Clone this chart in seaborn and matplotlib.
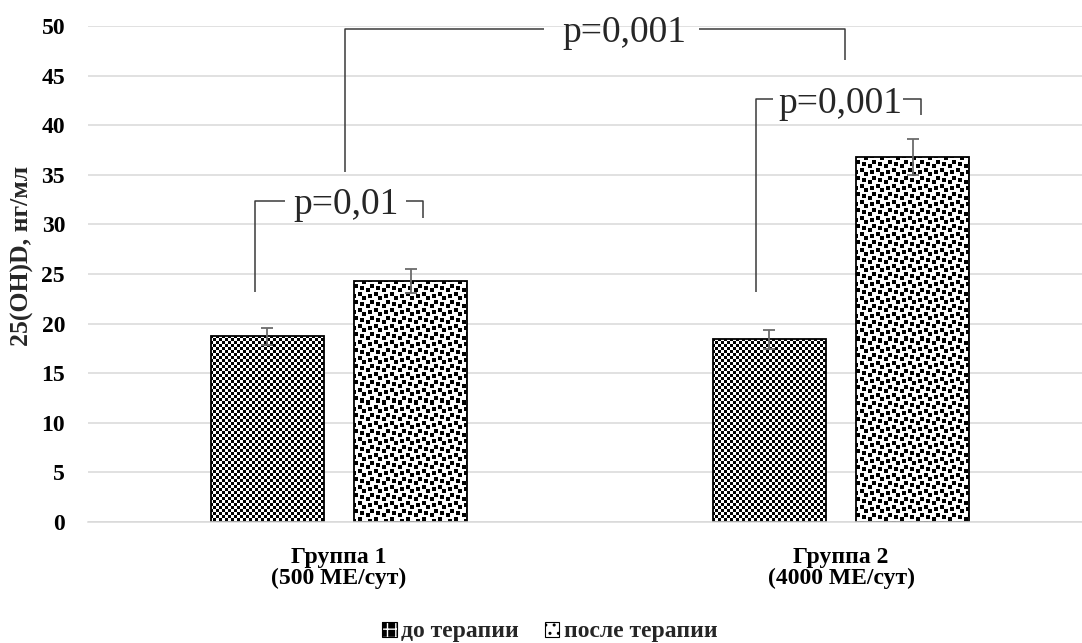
import numpy as np
import pandas as pd
import matplotlib
matplotlib.use("Agg")
import matplotlib.pyplot as plt
from matplotlib.patches import Patch
from matplotlib.legend_handler import HandlerTuple
import seaborn as sns

# --- data -------------------------------------------------------------
groups = ["Группа 1\n(500 МЕ/сут)", "Группа 2\n(4000 МЕ/сут)"]
stages = ["до терапии", "после терапии"]
means_before = [18.7, 18.4]
means_after = [24.3, 36.8]
sd_before = [0.9, 0.95]
sd_after = [1.2, 1.8]
y_ticks = [0, 5, 10, 15, 20, 25, 30, 35, 40, 45, 50]
y_label = "25(OH)D, нг/мл"

# significance brackets:
# (left x, left bottom y, right x, right bottom y, top y, text, text x, (gap start, gap end))
brackets = [
    (-0.167, 23.2, 0.167, 30.6, 32.4, "p=0,01", 0.014, (-0.108, 0.133)),
    (0.012, 35.3, 1.008, 46.6, 49.7, "p=0,001", 0.568, (0.408, 0.717)),
    (0.830, 23.2, 1.159, 41.0, 42.6, "p=0,001", 0.998, (0.865, 1.124)),
]

df = pd.DataFrame({
    "group": groups * 2,
    "stage": [stages[0]] * 2 + [stages[1]] * 2,
    "value": means_before + means_after,
})

# --- style ------------------------------------------------------------
sns.set_theme(style="white")
plt.rcParams["font.family"] = ["Liberation Serif", "DejaVu Serif"]

W, H = 1082, 643
fig = plt.figure(figsize=(W / 100, H / 100), dpi=100)
ax = fig.add_axes([88 / W, (H - 522) / H, (1092 - 88) / W, (522 - 26) / H])

sns.barplot(data=df, x="group", y="value", hue="stage", hue_order=stages,
            order=groups, palette=["white", "white"], edgecolor="black",
            linewidth=1.3, width=0.572, gap=0.213, errorbar=None,
            legend=False, ax=ax, zorder=2)

ax.set_xlim(-0.5, 1.5)
ax.set_ylim(0, 50)

# 8x8 fill tiles (1 = black)
def bits(rows):
    return np.array([[(r >> (7 - k)) & 1 for k in range(8)] for r in rows])

checker = bits([0x99, 0x66, 0x66, 0x99, 0x99, 0x66, 0x66, 0x99])
confetti = bits([0x8D, 0x0C, 0xC0, 0xD8, 0x1B, 0x03, 0x30, 0xB1])
tiles = [(checker, 1.5), (confetti, 2.0)]

for cont, (tile, cell) in zip(ax.containers, tiles):
    for bar in cont:
        bb = bar.get_window_extent()
        w = max(int(round(bb.width)), 1)
        h = max(int(round(bb.height)), 1)
        jj, ii = np.mgrid[0:h, 0:w]
        arr = tile[(np.floor(jj / cell).astype(int)) % 8,
                   (np.floor(ii / cell).astype(int)) % 8]
        x0, y0 = bar.get_x(), bar.get_y()
        im = ax.imshow(arr, extent=(x0, x0 + bar.get_width(), y0, y0 + bar.get_height()),
                       cmap="gray_r", vmin=0, vmax=1, interpolation="nearest",
                       aspect="auto", zorder=1.5)
        im.set_clip_path(bar)
        bar.set_facecolor("none")
        bar.set_zorder(2)

# error bars
for cont, sds in zip(ax.containers, [sd_before, sd_after]):
    xs = [b.get_x() + b.get_width() / 2 for b in cont]
    ys = [b.get_height() for b in cont]
    ax.errorbar(xs, ys, yerr=sds, fmt="none", ecolor="#6b6b6b",
                elinewidth=1.3, capsize=4.3, capthick=1.3, zorder=3)

ax.set_xlim(-0.5, 1.5)
ax.set_ylim(0, 50)

# axes styling
ax.set_yticks(y_ticks)
ax.yaxis.grid(True, color="#d9d9d9", linewidth=1.1)
ax.set_axisbelow(True)
for s in ["left", "right", "top"]:
    ax.spines[s].set_visible(False)
ax.spines["bottom"].set_color("#d9d9d9")
ax.spines["bottom"].set_linewidth(1.1)
ax.tick_params(axis="both", length=0, labelsize=17, colors="black")
ax.tick_params(axis="y", pad=16.5)
ax.tick_params(axis="x", pad=18)
for lab in ax.get_xticklabels() + ax.get_yticklabels():
    lab.set_fontweight("bold")
    lab.set_linespacing(1.0)
ax.set_xlabel("")
ax.set_ylabel("")
fig.text(22 / W, 1 - 256 / H, y_label, rotation=90, ha="center", va="center",
         fontsize=18.5, fontweight="bold")

# significance brackets
bk = dict(color="#3a3a3a", linewidth=1.1, zorder=4, solid_capstyle="butt")
for xl, yl, xr, yr, yt, txt, tx, (sl, sr) in brackets:
    ax.plot([xl, xl, sl], [yl, yt, yt], **bk)
    ax.plot([sr, xr, xr], [yt, yt, yr], **bk)
    ax.text(tx, yt - 1.35, txt, ha="center", va="baseline", fontsize=27, zorder=5)

# legend
handles = [
    (Patch(facecolor="black", edgecolor="white", hatch="++", linewidth=0),
     Patch(facecolor="none", edgecolor="black", linewidth=0.8)),
    (Patch(facecolor="white", edgecolor="black", hatch="..", linewidth=0),
     Patch(facecolor="none", edgecolor="black", linewidth=0.8)),
]
fig.legend(handles, stages, handler_map={tuple: HandlerTuple(ndivide=1, pad=0)},
           loc="center", bbox_to_anchor=(550 / W, 1 - 632 / H), ncol=2,
           frameon=False, handlelength=0.6, handleheight=0.6, handletextpad=0.2,
           columnspacing=1.1, prop={"weight": "bold", "size": 17})

fig.savefig("out.png", dpi=100)
